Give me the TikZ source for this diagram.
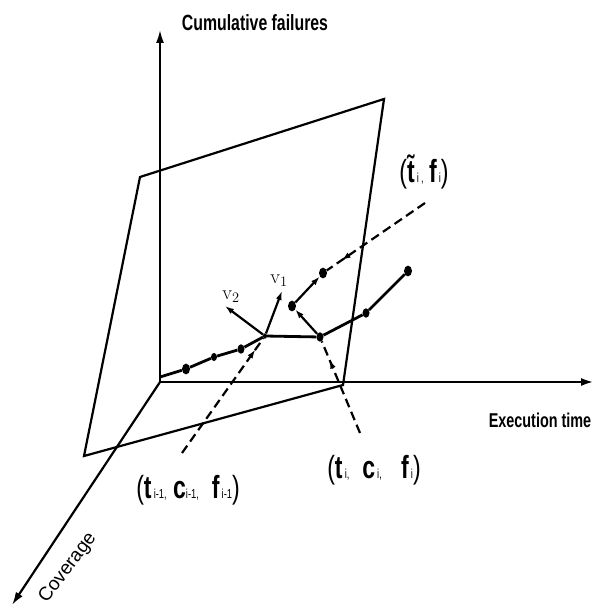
\documentclass[tikz,border=0pt]{standalone}
\usepackage{fontspec}
\newfontfamily\narrowsf[FakeStretch=0.72]{Liberation Sans}
\newfontfamily\plainsf{Liberation Sans}
\usetikzlibrary{arrows.meta,decorations.markings,shapes.geometric}
\newcommand\sbs[1]{{\fontsize{13}{13}\selectfont\mdseries #1}}

\begin{document}
\begin{tikzpicture}[x=1pt, y=-1pt,
  axis/.style={line width=2.6pt, -{Latex[length=13pt,width=8pt]}},
  plane/.style={line width=2.2pt},
  traj/.style={line width=2.8pt},
  dot/.style={ellipse, fill, inner sep=0pt, minimum width=#1, minimum height=1.35*#1},
  dot/.default=7pt,
  vec/.style={line width=2.2pt, -{Latex[length=9pt,width=6pt]}},
  dsh/.style={line width=2.2pt, dash pattern=on 9pt off 5pt},
  tip/.style={postaction={decorate}, decoration={markings,
    mark=at position #1 with {\arrow{Latex[length=9pt,width=6pt]}}}},
  axlbl/.style={font=\narrowsf\bfseries\fontsize{20}{22}\selectfont, inner sep=0pt},
  tuple/.style={font=\narrowsf\fontsize{32}{34}\selectfont, inner sep=0pt},
  vlbl/.style={font=\fontsize{20}{20}\selectfont, inner sep=0pt}]
  \useasboundingbox (0,0) rectangle (596,610);

  \coordinate (O) at (160,382);
  \coordinate (ytop) at (160,30);
  \coordinate (xend) at (594,382);
  \coordinate (zend) at (12,605);
  \draw[axis, line width=1.8pt] (O) -- (ytop);
  \draw[axis] (O) -- (xend);
  \draw[axis, line width=2.2pt] (O) -- (zend);
  \node[axlbl, font=\narrowsf\bfseries\fontsize{22}{24}\selectfont] (cumlbl) at (255,23) {Cumulative failures};
  \node[axlbl] (execlbl) at (540,420) {Execution time};
  \node[axlbl, font=\plainsf\fontsize{19}{20}\selectfont, rotate=53] (covlbl) at (68,568) {Coverage};

  \coordinate (pa) at (140,177);
  \coordinate (pb) at (384,99);
  \coordinate (pc) at (343,385);
  \coordinate (pd) at (84,456);
  \draw[plane] (pa) -- (pb) -- (pc) -- (pd) -- cycle;

  \coordinate (s0) at (160,377);
  \node[dot=8pt] (d1) at (186,369) {};
  \node[dot=6pt] (d2) at (214,357) {};
  \node[dot=7pt] (d3) at (241,349) {};
  \node[dot=4pt] (prev) at (265,336) {};
  \node[dot=7pt] (cur) at (320,337) {};
  \node[dot=7pt] (d4) at (366,313) {};
  \node[dot=8pt] (d5) at (408,271) {};
  \node[dot=8pt] (q1) at (292,306) {};
  \node[dot=8pt] (q2) at (323,273) {};
  \draw[traj] (s0) -- (d1) -- (d2) -- (d3) -- (prev) -- (cur) -- (d4) -- (d5);

  \coordinate (v1end) at (282,291);
  \coordinate (v2end) at (225,306);
  \draw[vec] (prev) -- (v1end);
  \draw[vec] (prev) -- (v2end);
  \node[vlbl] (v1lbl) at (279,281) {$\mathrm{v}_1$};
  \node[vlbl] (v2lbl) at (231,297) {$\mathrm{v}_2$};
  \draw[vec] (cur) -- (q1);
  \draw[vec] (q1) -- (q2);

  \node[tuple] (prevlbl) at (188,490)
    {(\textbf{t}\sbs{\,i-1,}\ \textbf{c}\sbs{i-1,}\ \ \textbf{f}\sbs{\,i-1})};
  \node[tuple] (curlbl) at (374,470)
    {(\textbf{t}\sbs{\,i,}\ \ \textbf{c}\sbs{\,i,}\ \ \ \textbf{f}\sbs{\,i})};
  \node[tuple] (tillbl) at (424,172)
    {(\textbf{\~{t}}\sbs{\,i\,,}\,\textbf{f}\sbs{\,i})};
  \coordinate (prevfoot) at (182,453);
  \coordinate (curfoot) at (360,433);
  \coordinate (tilfoot) at (425,203);
  \draw[dsh, tip=0.9] (prevfoot) -- (prev);
  \draw[dsh, tip=0.8] (curfoot) -- (cur);
  \draw[dsh, tip=0.85] (tilfoot) -- (q2);
\end{tikzpicture}
\end{document}
